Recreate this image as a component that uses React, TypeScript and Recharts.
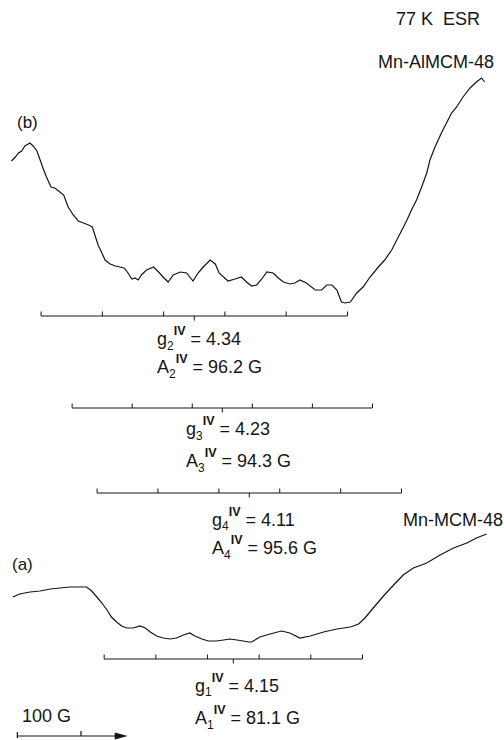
import React from "react";
import { ComposedChart, Line, XAxis, YAxis, ReferenceLine, ReferenceDot } from "recharts";

// Magnetic field (G, relative) and ESR signal (arb. units)
const fieldB = [18,24,29,34,39,47,52,58,63,68,73,80,86,94,100,107,115,123,131,139,145,149,154,160,165,173,181,188,195,201,207,212,217,222,230,241,249,256,264,272,283,293,303,311,319,330,338,344,358,369,379,387,395,403,411,419,429,437,445,455,463,471,481,495,505,513,521,529,536,542,550,560,570,581,594,604,615,623,631,639,646,654,662,670,675,683,693,701,709,717,727,738,748,756,761];
const signalB = [579,583,587,589,594,597,594,589,580,571,563,553,552,548,545,533,525,519,517,515,513,505,495,487,480,476,474,473,472,467,461,462,460,465,470,473,468,463,458,465,468,467,459,467,473,480,476,467,459,461,463,458,454,455,461,468,467,462,458,456,457,460,457,450,450,455,455,450,438,437,438,447,453,463,473,480,490,500,510,520,530,540,553,567,580,593,607,617,627,633,643,652,658,662,658];

const fieldA = [20,31,47,63,79,94,110,126,136,144,152,160,168,175,183,191,199,209,220,228,236,246,256,267,277,288,298,306,317,327,340,351,361,372,382,390,395,408,424,442,455,471,487,508,529,550,563,573,586,602,618,633,649,670,691,712,733,748,764];
const signalA = [143,146,148,149,151,152,153,153,153,149,143,137,130,123,118,114,112,112,114,112,108,104,102,101,102,105,107,104,101,99,99,100,101,100,99,98,98,103,106,109,107,102,104,108,111,113,116,122,132,144,155,165,172,177,185,192,197,202,206];

// Stick diagrams: centre field (G), hyperfine splitting A (G), level
const stickNames = ["g2", "g3", "g4", "g1"];
const stickCenters = [305, 349, 391.4, 366.3];
const hyperfineA = [96.2, 94.3, 95.6, 81.1];
const stickLevels = [424, 332, 247, 81];
const nuclearOffsets = [-2.5, -1.5, -0.5, 0.5, 1.5, 2.5];

// Scale bar: 100 G
const scaleStart = 27.2;
const scaleLength = 100;
const scaleArrowEnd = 200.5;
const scaleLevel = 4;

const specB = fieldB.map((B, i) => ({ B, I: signalB[i] }));
const specA = fieldA.map((B, i) => ({ B, I: signalA[i] }));

const INK = "#151515";
const FONT = "'Liberation Sans', Arial, Helvetica, sans-serif";

function Formula({ x, y, main, sub, value }: { x: number; y: number; main: string; sub: string; value: string }) {
  return (
    <text x={x} y={y} fontSize={18} fontFamily={FONT} fill={INK} style={{ whiteSpace: "pre" }}>
      {main}
      <tspan fontSize={12} dy={4.5}>{sub}</tspan>
      <tspan fontSize={12.5} fontWeight="bold" dy={-14.5}>IV</tspan>
      <tspan fontSize={18} dy={10}>{" = " + value}</tspan>
    </text>
  );
}

export default function App() {
  const stickLines: React.ReactNode[] = [];
  stickCenters.forEach((c, k) => {
    const A = hyperfineA[k];
    const lv = stickLevels[k];
    const xs = nuclearOffsets.map((m) => c + m * A);
    stickLines.push(
      <ReferenceLine key={`s${k}`} segment={[{ x: xs[0], y: lv }, { x: xs[5], y: lv }]} stroke={INK} strokeWidth={1} />
    );
    xs.forEach((x, j) => {
      stickLines.push(
        <ReferenceLine key={`t${k}-${j}`} segment={[{ x, y: lv }, { x, y: lv + 4.5 }]} stroke={INK} strokeWidth={1} />
      );
    });
    stickLines.push(
      <ReferenceLine key={`c${k}`} segment={[{ x: c, y: lv }, { x: c, y: lv - 4.5 }]} stroke={INK} strokeWidth={1} />
    );
  });

  return (
    <div style={{ position: "absolute", left: 0, top: 0, width: 504, height: 740, background: "#fff" }}>
      <ComposedChart width={504} height={740} margin={{ top: 0, right: 0, bottom: 0, left: 0 }}>
        <XAxis type="number" dataKey="B" domain={[0, 791.3]} hide allowDataOverflow />
        <YAxis type="number" dataKey="I" domain={[0, 740]} hide allowDataOverflow />
        <Line data={specB} dataKey="I" type="linear" dot={false} activeDot={false} stroke={INK} strokeWidth={1.2} isAnimationActive={false} />
        <Line data={specA} dataKey="I" type="linear" dot={false} activeDot={false} stroke={INK} strokeWidth={1.2} isAnimationActive={false} />
        {stickLines}
        <ReferenceLine segment={[{ x: scaleStart, y: scaleLevel }, { x: scaleArrowEnd - 15, y: scaleLevel }]} stroke={INK} strokeWidth={1.2} />
        <ReferenceLine segment={[{ x: scaleStart, y: scaleLevel - 2 }, { x: scaleStart, y: scaleLevel + 4 }]} stroke={INK} strokeWidth={1.2} />
        <ReferenceLine segment={[{ x: scaleStart + scaleLength, y: scaleLevel }, { x: scaleStart + scaleLength, y: scaleLevel + 5 }]} stroke={INK} strokeWidth={1.2} />
        <ReferenceDot
          x={scaleArrowEnd}
          y={scaleLevel}
          r={3}
          shape={(p: any) => (
            <polygon points={`${p.cx},${p.cy} ${p.cx - 13},${p.cy - 3.5} ${p.cx - 13},${p.cy + 3.5}`} fill={INK} />
          )}
        />
      </ComposedChart>
      <svg width={504} height={740} style={{ position: "absolute", left: 0, top: 0, pointerEvents: "none" }}>
        <text x={396} y={25} fontSize={18} fontFamily={FONT} fill={INK} style={{ whiteSpace: "pre" }}>77 K  ESR</text>
        <text x={494} y={68} fontSize={18} fontFamily={FONT} fill={INK} textAnchor="end">Mn-AlMCM-48</text>
        <text x={17} y={128} fontSize={17} fontFamily={FONT} fill={INK}>(b)</text>
        <Formula x={157} y={345} main="g" sub="2" value="4.34" />
        <Formula x={157} y={373} main="A" sub="2" value="96.2 G" />
        <Formula x={186} y={435} main="g" sub="3" value="4.23" />
        <Formula x={186} y={467} main="A" sub="3" value="94.3 G" />
        <Formula x={212} y={525.5} main="g" sub="4" value="4.11" />
        <text x={503} y={525.5} fontSize={18} fontFamily={FONT} fill={INK} textAnchor="end">Mn-MCM-48</text>
        <Formula x={212} y={554} main="A" sub="4" value="95.6 G" />
        <text x={12} y={570} fontSize={17} fontFamily={FONT} fill={INK}>(a)</text>
        <Formula x={195} y={691.5} main="g" sub="1" value="4.15" />
        <Formula x={195} y={724} main="A" sub="1" value="81.1 G" />
        <text x={22} y={721.5} fontSize={18} fontFamily={FONT} fill={INK}>100 G</text>
      </svg>
    </div>
  );
}
